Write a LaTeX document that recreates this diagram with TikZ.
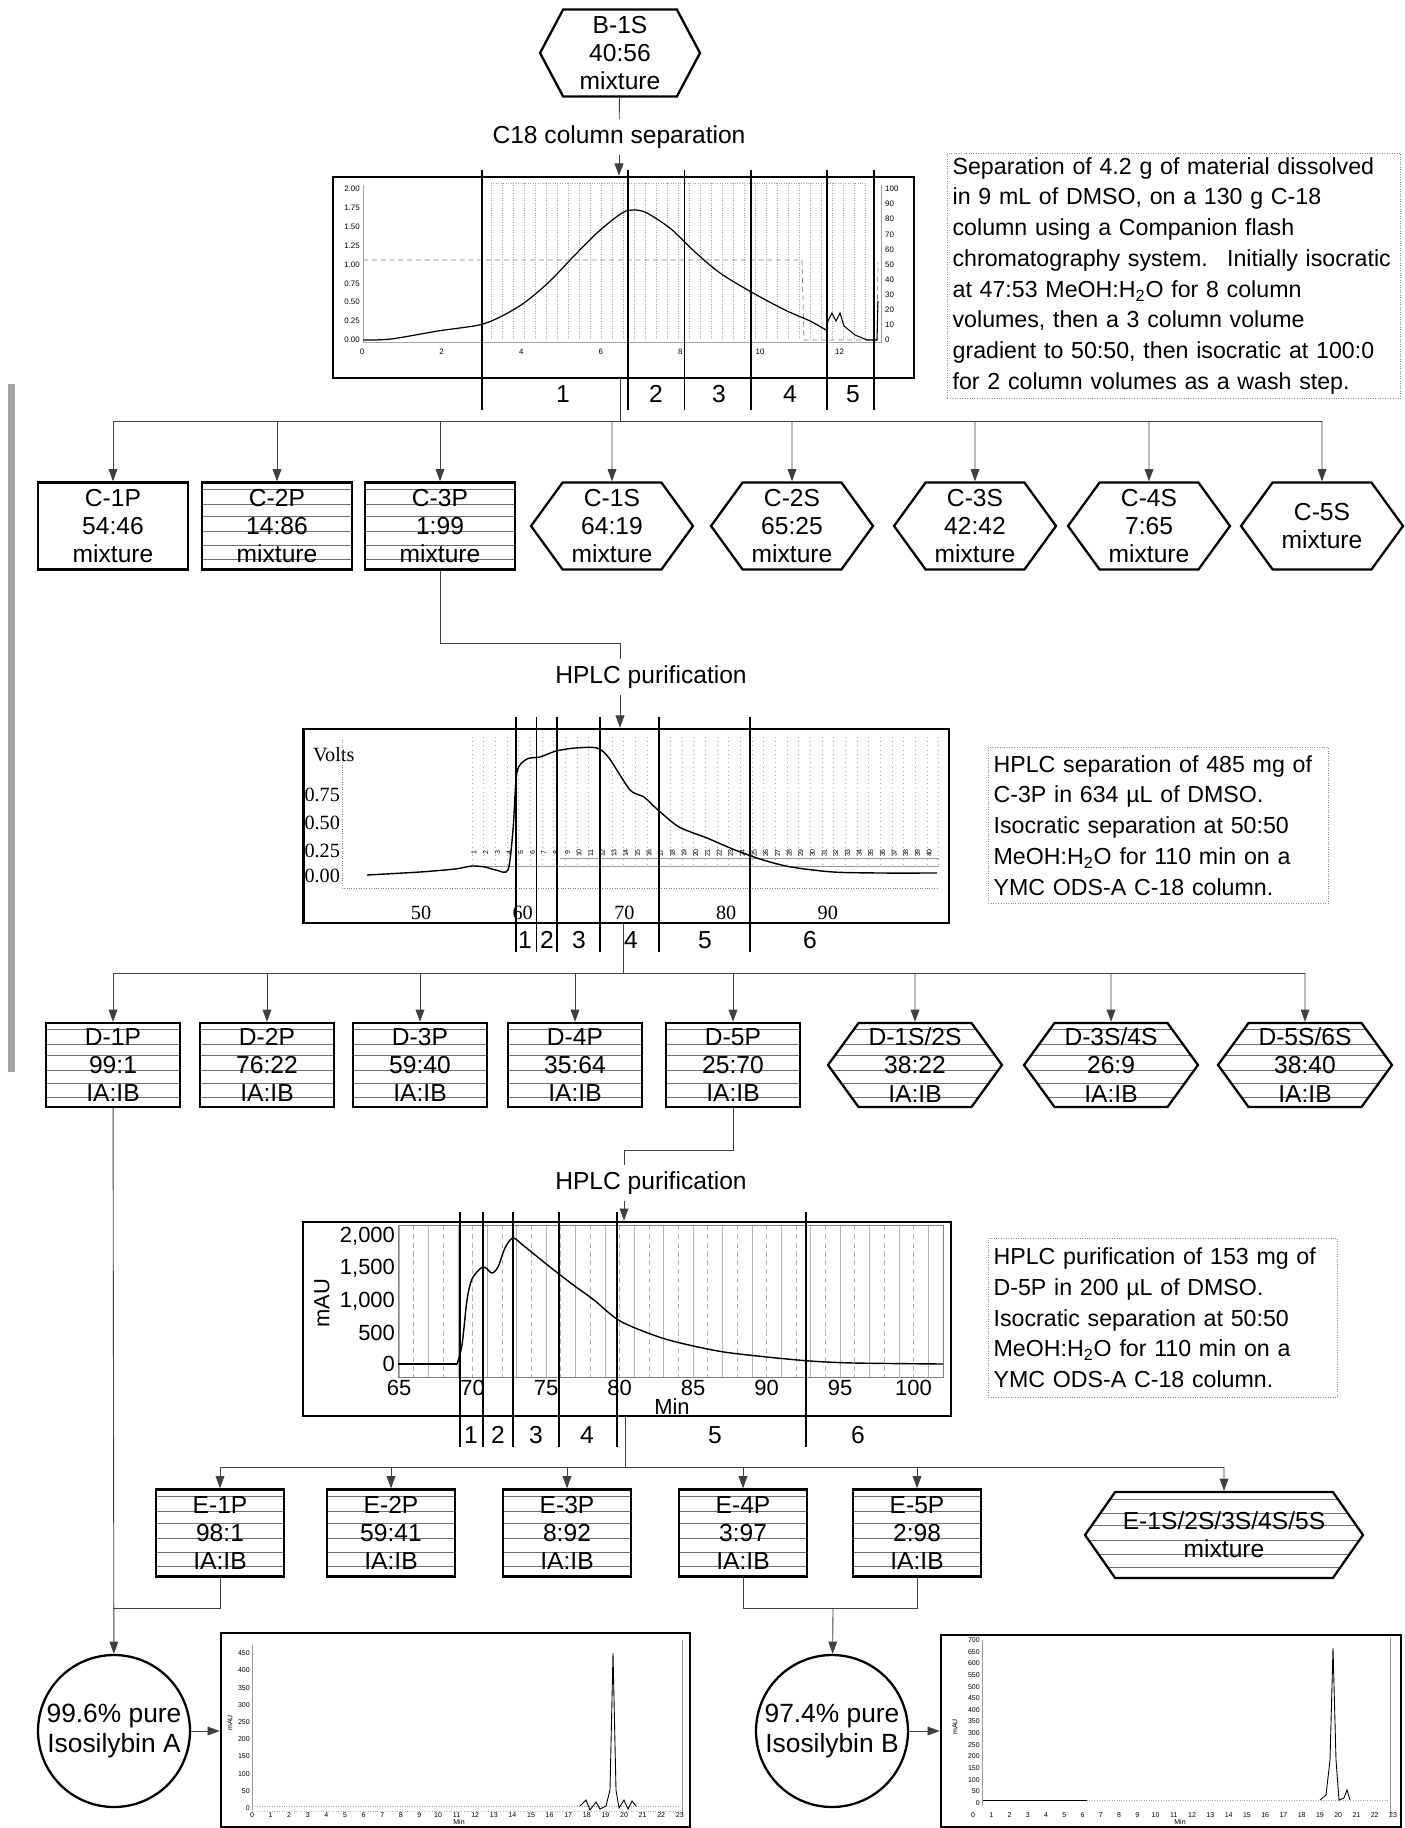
\documentclass[tikz,border=0pt]{standalone}
\usepackage{fontspec}
\setmainfont{Liberation Sans}
\newfontfamily\chartserif{Liberation Serif}
\usetikzlibrary{shapes.symbols, positioning, arrows.meta, calc}
\definecolor{ScanGray}{HTML}{8C8C8C}
\definecolor{StripeGray}{HTML}{6E6E6E}

\tikzset{
  conn/.style={black!75, line width=0.5pt},
  arr/.style={conn, -{Triangle[length=7pt,width=5pt]}},
  frac/.style={black, line width=0.8pt},
  fraclbl/.style={font=\fontsize{14}{16}\selectfont, inner sep=0pt},
  stage/.style={font=\fontsize{14}{16}\selectfont},
  sample/.style={draw, line width=1.3pt, fill=white, align=center, inner sep=0pt,
    font=\fontsize{14}{16}\selectfont},
  pbox/.style={sample, rectangle, minimum width=3cm, minimum height=1.74cm},
  hexa/.style={sample, signal, signal from=nowhere, signal to=east and west,
    signal pointer angle=108, minimum width=3.24cm, minimum height=1.74cm},
  striped/.style={path picture={
    \foreach \f in {0.08,0.25,0.39,0.56,0.72,0.88}
      \draw[StripeGray, line width=0.45pt]
        ($(path picture bounding box.north west)!\f!(path picture bounding box.south west)$) --
        ($(path picture bounding box.north east)!\f!(path picture bounding box.south east)$);}},
  chartfr/.style={draw, line width=1.4pt, inner sep=0pt},
  tbox/.style={draw=ScanGray, densely dotted, anchor=north west, align=left,
    inner xsep=3pt, inner ysep=2pt, font=\fontsize{13.2}{17.5}\selectfont},
  purity/.style={circle, draw, line width=1.3pt, minimum size=3.04cm, inner sep=0pt,
    align=center, font=\fontsize{15}{17}\selectfont},
  tinyA/.style={font=\fontsize{4.5}{5}\selectfont, inner sep=0.5pt},
  tinyB/.style={font=\fontsize{4}{4.5}\selectfont, inner sep=0.5pt},
  serlbl/.style={font=\chartserif\fontsize{11.5}{12}\selectfont, inner sep=1pt},
  sanslbl/.style={font=\fontsize{12.5}{14}\selectfont, inner sep=1pt}
}

\begin{document}
\begin{tikzpicture}[x=0.02cm, y=-0.02cm]
\useasboundingbox (0,0) rectangle (1404,1828);

% scan edge
\fill[ScanGray!80] (8,384) rectangle (15,1072);

% starting material and flash column
\node[hexa, signal pointer angle=124, minimum width=3.2cm] (b1s) at (620,53) {B-1S\\40:56\\mixture};
\node[stage] (lblA) at (619,137) {C18 column separation};
\node[chartfr, minimum width=11.62cm, minimum height=4.02cm] (chartA) at (623.5,277.5) {};

\draw[gray!70, line width=0.4pt] (363,185) -- (363,342) -- (881,342) -- (881,185);
\foreach \v [count=\i from 0] in {0.00,0.25,0.50,0.75,1.00,1.25,1.50,1.75,2.00}
  \node[tinyA, anchor=east] at (361,{340-\i*18.9}) {\v};
\foreach \v [count=\i from 0] in {0,10,...,100}
  \node[tinyA, anchor=west] at (884,{340-\i*15.1}) {\v};
\foreach \t in {0,2,...,12}
  \node[tinyA] at ({362+\t*39.8},352) {\t};
\foreach \x in {491,502,...,867}
  \draw[gray!70, densely dotted] (\x,183) -- (\x,340);
\draw[gray!70, densely dotted] (491,183) -- (867,183);
\draw[gray, densely dashed] (363,260) -- (802,260) -- (804,340) -- (877,340) -- (878,262);
\draw[line width=0.7pt] plot[smooth] coordinates {(363,340) (391,339) (438,331) (479,325)
  (500,317) (524,303) (549,282) (573,257) (598,232) (622,213) (634,210) (647,213) (671,229)
  (695,252) (720,273) (753,293) (785,310) (810,321) (826,330)};
\draw[line width=0.6pt] (826,330) -- (828,321) -- (832,313) -- (836,321) -- (840,313)
  -- (844,326) -- (855,335) -- (867,340) -- (877,340) -- (878,301);
\foreach \x in {482,628,684.5,751,827,874}
  \draw[frac] (\x,170) -- (\x,410);
\foreach \x/\n in {563/1,656/2,719/3,790/4,853/5}
  \node[fraclbl] at (\x,394) {\n};

\node[tbox, text width=8.85cm, minimum height=4.9cm] (noteA) at (947,153) {Separation of 4.2 g of material dissolved\\
in 9 mL of DMSO, on a 130 g C-18\\
column using a Companion flash\\
chromatography system.~ Initially isocratic\\
at 47:53 MeOH:H\textsubscript{2}O for 8 column\\
volumes, then a 3 column volume\\
gradient to 50:50, then isocratic at 100:0\\
for 2 column volumes as a wash step.};

\draw[conn] (b1s) -- (lblA);
\draw[arr] (lblA) -- (lblA |- chartA.north);

% C fractions
\coordinate (brA) at (620,421);
\node[pbox] (c1p) at (113,526) {C-1P\\54:46\\mixture};
\node[pbox, striped] (c2p) at (277,526) {C-2P\\14:86\\mixture};
\node[pbox, striped] (c3p) at (440,526) {C-3P\\1:99\\mixture};
\node[hexa] (c1s) at (612,526) {C-1S\\64:19\\mixture};
\node[hexa] (c2s) at (792,526) {C-2S\\65:25\\mixture};
\node[hexa] (c3s) at (975,526) {C-3S\\42:42\\mixture};
\node[hexa] (c4s) at (1149,526) {C-4S\\7:65\\mixture};
\node[hexa] (c5s) at (1322,526) {C-5S\\mixture};

\draw[conn] (brA |- chartA.south) -- (brA);
\draw[conn] (c1p |- brA) -- (c5s |- brA);
\foreach \n in {c1p,c2p,c3p,c1s,c2s,c3s,c4s,c5s}
  \draw[arr] (\n |- brA) -- (\n);

% first HPLC
\coordinate (jB) at (620,643);
\node[stage] (lblB) at (651,677) {HPLC purification};
\node[chartfr, minimum width=12.91cm, minimum height=3.88cm] (chartB) at (626.25,826) {};
\draw[conn] (c3p) |- (jB) -- (jB |- lblB.north);
\draw[arr] (jB |- lblB.south) -- (jB |- chartB.north);

\node[font=\chartserif\fontsize{11.5}{12}\selectfont, anchor=west] at (307,755) {Volts};
\foreach \v/\y in {0.75/795,0.50/823,0.25/851,0.00/876}
  \node[serlbl, anchor=east] at (342,\y) {\v};
\draw[gray, densely dotted] (342,740) -- (342,888) -- (939,888);
\foreach \t in {50,60,...,90}
  \node[serlbl] at ({421+(\t-50)*10.17},913) {\t};
\foreach \i in {0,...,40} {
  \pgfmathsetmacro{\gx}{472+\i*11.67}
  \draw[gray!70, dotted] (\gx,737) -- (\gx,866);
}
\foreach \i in {1,...,40}
  \node[tinyB, rotate=90] at ({474+(\i-1)*11.67},853) {\i};
\draw[gray!80] (472,866) -- (939,866);
\draw[gray!80] (560,858) -- (939,858);
\draw[line width=0.8pt] plot[smooth, tension=0.45] coordinates {(367,875) (420,872) (455,869)
  (472,866) (485,867) (496,870) (508,870) (513,830) (517,772) (527,759) (540,757) (556,751)
  (575,748) (597,748) (609,758) (630,790) (644,797) (658,810) (679,827) (707,838) (735,850)
  (763,860) (791,867) (833,872) (880,873) (937,873)};
\foreach \x in {516,536.5,557,600,659,750}
  \draw[frac] (\x,717) -- (\x,952);
\foreach \x/\n in {525/1,547/2,579/3,631/4,705/5,810/6}
  \node[fraclbl] at (\x,940) {\n};

\node[tbox, text width=6.59cm, minimum height=3.12cm] (noteB) at (988,747) {HPLC separation of 485 mg of\\
C-3P in 634 µL of DMSO.\\
Isocratic separation at 50:50\\
MeOH:H\textsubscript{2}O for 110 min on a\\
YMC ODS-A C-18 column.};

% D fractions
\coordinate (brB) at (623,973);
\node[pbox, striped, minimum width=2.68cm, minimum height=1.68cm] (d1p) at (113,1065) {D-1P\\99:1\\IA:IB};
\node[pbox, striped, minimum width=2.68cm, minimum height=1.68cm] (d2p) at (267,1065) {D-2P\\76:22\\IA:IB};
\node[pbox, striped, minimum width=2.68cm, minimum height=1.68cm] (d3p) at (420,1065) {D-3P\\59:40\\IA:IB};
\node[pbox, striped, minimum width=2.68cm, minimum height=1.68cm] (d4p) at (575,1065) {D-4P\\35:64\\IA:IB};
\node[pbox, striped, minimum width=2.68cm, minimum height=1.68cm] (d5p) at (733,1065) {D-5P\\25:70\\IA:IB};
\node[hexa, striped, minimum width=3.48cm, minimum height=1.68cm] (d12s) at (915,1065) {D-1S/2S\\38:22\\IA:IB};
\node[hexa, striped, minimum width=3.48cm, minimum height=1.68cm] (d34s) at (1111,1065) {D-3S/4S\\26:9\\IA:IB};
\node[hexa, striped, minimum width=3.48cm, minimum height=1.68cm] (d56s) at (1305,1065) {D-5S/6S\\38:40\\IA:IB};

\draw[conn] (brB |- chartB.south) -- (brB);
\draw[conn] (d1p |- brB) -- (d56s |- brB);
\foreach \n in {d1p,d2p,d3p,d4p,d5p,d12s,d34s,d56s}
  \draw[arr] (\n |- brB) -- (\n);

% second HPLC
\coordinate (jC) at (624,1150);
\node[stage] (lblC) at (651,1183) {HPLC purification};
\node[chartfr, minimum width=12.96cm, minimum height=3.88cm] (chartC) at (627,1319) {};
\draw[conn] (d5p) |- (jC) -- (jC |- lblC.north);
\draw[arr] (jC |- lblC.south) -- (jC |- chartC.north);

\foreach \i in {0,...,37} {
  \pgfmathsetmacro{\gx}{399+\i*14.7}
  \ifodd\i
    \draw[gray!60, densely dashed, line width=0.3pt] (\gx,1225) -- (\gx,1377);
  \else
    \draw[gray!60, line width=0.3pt] (\gx,1225) -- (\gx,1377);
  \fi
}
\draw[gray, line width=0.4pt] (398,1225) rectangle (943,1377);
\foreach \v/\y in {{2,000}/1236,{1,500}/1268,{1,000}/1301,500/1333,0/1364}
  \node[sanslbl, anchor=east] at (397,\y) {\v};
\node[sanslbl, rotate=90] at (322,1303) {mAU};
\foreach \t in {65,70,...,100}
  \node[sanslbl] at ({399+(\t-65)*14.7},1388) {\t};
\node[sanslbl] at (672,1407) {Min};
\draw[line width=0.8pt] (398,1364) -- (457,1364);
\draw[line width=0.8pt] plot[smooth, tension=0.5] coordinates {(457,1364) (462,1345)
  (467,1300) (472,1279) (481,1268) (486,1268) (492,1273) (498,1267) (505,1248) (513,1238)
  (524,1246) (550,1267) (572,1284) (594,1300) (620,1321) (659,1337) (689,1345) (724,1352)
  (767,1357) (810,1361) (854,1363) (943,1364)};
\foreach \x in {460,483,513,559,617,806}
  \draw[frac] (\x,1212) -- (\x,1447);
\foreach \x/\n in {471/1,498/2,536/3,587/4,715/5,858/6}
  \node[fraclbl] at (\x,1435) {\n};

\node[tbox, text width=6.77cm, minimum height=3.18cm] (noteC) at (988,1238) {HPLC purification of 153 mg of\\
D-5P in 200 µL of DMSO.\\
Isocratic separation at 50:50\\
MeOH:H\textsubscript{2}O for 110 min on a\\
YMC ODS-A C-18 column.};

% E fractions
\coordinate (brC) at (625,1467);
\node[pbox, striped, minimum width=2.56cm] (e1p) at (220,1533) {E-1P\\98:1\\IA:IB};
\node[pbox, striped, minimum width=2.56cm] (e2p) at (391,1533) {E-2P\\59:41\\IA:IB};
\node[pbox, striped, minimum width=2.56cm] (e3p) at (567,1533) {E-3P\\8:92\\IA:IB};
\node[pbox, striped, minimum width=2.56cm] (e4p) at (743,1533) {E-4P\\3:97\\IA:IB};
\node[pbox, striped, minimum width=2.56cm] (e5p) at (917,1533) {E-5P\\2:98\\IA:IB};
\node[hexa, striped, signal pointer angle=110, minimum width=5.56cm, minimum height=1.72cm] (e15s) at (1224,1535) {E-1S/2S/3S/4S/5S\\mixture};

\draw[conn] (brC |- chartC.south) -- (brC);
\draw[conn] (e1p |- brC) -- (e15s |- brC);
\foreach \n in {e1p,e2p,e3p,e4p,e5p,e15s}
  \draw[arr] (\n |- brC) -- (\n);

% pure compounds
\node[purity] (circA) at (114,1731) {99.6\% pure\\Isosilybin A};
\node[purity] (circB) at (832,1731) {97.4\% pure\\Isosilybin B};
\node[chartfr, minimum width=9.38cm, minimum height=3.88cm] (chartD) at (455.5,1730) {};
\node[chartfr, minimum width=9.2cm, minimum height=3.84cm] (chartE) at (1171,1731) {};

\coordinate (jD) at (113,1608);
\coordinate (jE) at (833,1608);
\draw[conn] (e1p) |- (jD);
\draw[arr] (d1p) -- (circA);
\draw[conn] (e4p) |- (jE) -| (e5p);
\draw[arr] (jE) -- (circB);
\draw[arr] (circA) -- (circA -| chartD.west);
\draw[arr] (circB) -- (circB -| chartE.west);

% purity traces
\draw[gray!80, line width=0.3pt] (252,1645) -- (252,1810);
\draw[gray!80, line width=0.3pt] (682,1640) -- (682,1815);
\foreach \v [count=\i from 0] in {0,50,...,450}
  \node[tinyB, anchor=east] at (251,{1808-\i*17.2}) {\v};
\foreach \t in {0,...,23}
  \node[tinyB] at ({252+\t*18.6},1815) {\t};
\node[tinyB, rotate=90] at (230,1723) {mAU};
\node[tinyB] at (459,1822) {Min};
\draw[gray!80, densely dotted] (252,1806) -- (680,1806);
\draw[gray!60, densely dotted] (252,1811) -- (680,1811);
\draw[line width=0.5pt] plot coordinates {(580,1806) (586,1800) (590,1810) (596,1802)
  (600,1809) (606,1806) (610,1790) (613,1653) (616,1790) (619,1808) (624,1800) (628,1809)
  (632,1801) (636,1806)};

\draw[gray!80, line width=0.3pt] (982,1640) -- (982,1806);
\draw[gray!80, line width=0.3pt] (1390,1638) -- (1390,1815);
\foreach \v [count=\i from 0] in {0,50,...,700}
  \node[tinyB, anchor=east] at (981,{1803-\i*11.64}) {\v};
\foreach \t in {0,...,23}
  \node[tinyB] at ({973+\t*18.26},1815) {\t};
\node[tinyB, rotate=90] at (955,1727) {mAU};
\node[tinyB] at (1180,1822) {Min};
\draw[line width=0.4pt] (983,1800) -- (1087,1800);
\draw[gray!70, densely dotted] (1087,1800) -- (1388,1800);
\draw[line width=0.5pt] plot coordinates {(1320,1800) (1326,1795) (1330,1760) (1333,1648)
  (1336,1760) (1339,1800) (1344,1798) (1347,1790) (1350,1800)};
\end{tikzpicture}
\end{document}
